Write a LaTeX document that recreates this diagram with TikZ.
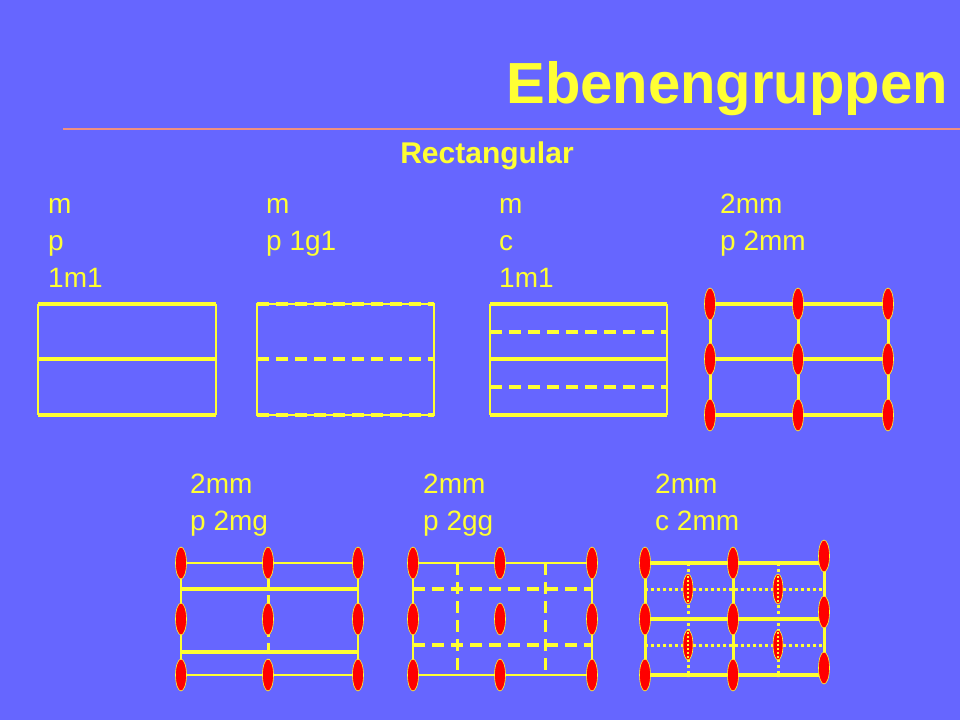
\documentclass[tikz,border=0pt]{standalone}
\usepackage{fontspec}
\setmainfont{Liberation Sans}
\definecolor{bgblue}{HTML}{6666FF}
\definecolor{gelb}{HTML}{FFFF33}
\definecolor{lachs}{HTML}{F09080}
\tikzset{
  thickline/.style={gelb, line width=4pt},
  thinline/.style={gelb, line width=1.5pt},
  midline/.style={gelb, line width=3pt},
  dashline/.style={gelb, line width=4pt, dash pattern=on 12pt off 7pt},
  dotline/.style={gelb, line width=3pt, dash pattern=on 3pt off 3pt},
  axis/.style={draw=gelb, fill=red, line width=0.6pt, ellipse, minimum width=11pt, minimum height=32pt, inner sep=0pt},
  lbl/.style={anchor=base west, align=left, gelb, font=\fontsize{28}{37}\selectfont, inner sep=0pt}
}
\usetikzlibrary{shapes.geometric}
\begin{document}
\begin{tikzpicture}[x=1pt,y=-1pt]
  % background
  \fill[bgblue] (0,0) rectangle (960,720);
  \useasboundingbox (0,0) rectangle (960,720);

  % title
  \node[gelb, anchor=base east, font=\fontsize{58}{58}\selectfont\bfseries, inner sep=0pt] (title) at (948,103) {Ebenengruppen};
  \draw[lachs, line width=2.5pt] (63,129) -- (960,129);
  \node[gelb, anchor=base, font=\fontsize{30}{30}\selectfont\bfseries, inner sep=0pt] (rect) at (487,163) {Rectangular};

  % labels
  \node[lbl] (l1) at (48,287) {m\\p\\1m1};
  \node[lbl] (l2) at (266,250) {m\\p 1g1};
  \node[lbl] (l3) at (499,287) {m\\c\\1m1};
  \node[lbl] (l4) at (720,250) {2mm\\p 2mm};
  \node[lbl] (l5) at (190,530) {2mm\\p 2mg};
  \node[lbl] (l6) at (423,530) {2mm\\p 2gg};
  \node[lbl] (l7) at (655,530) {2mm\\c 2mm};

  % p1m1
  \draw[thinline] (38,304) -- (38,415) (216,304) -- (216,415);
  \foreach \y in {304,359,415} \draw[thickline] (38,\y) -- (216,\y);

  % p1g1
  \draw[thinline] (257,304) rectangle (434,415);
  \foreach \y in {304,359,415} \draw[dashline] (257,\y) -- (434,\y);

  % c1m1
  \draw[thinline] (490,304) -- (490,415) (667,304) -- (667,415);
  \foreach \y in {304,359,415} \draw[thickline] (490,\y) -- (667,\y);
  \foreach \y in {332,387} \draw[dashline] (490,\y) -- (667,\y);

  % p2mm
  \foreach \y in {304,359,415} \draw[thickline] (710,\y) -- (888,\y);
  \foreach \x in {710,798,888} \draw[midline] (\x,304) -- (\x,415);
  \foreach \x/\i in {710/1,798/2,888/3}
    \foreach \y/\j in {304/1,359/2,415/3}
      \node[axis] (a\i\j) at (\x,\y) {};

  % p2mg
  \foreach \y in {563,675} \draw[thinline] (181,\y) -- (358,\y);
  \foreach \y in {589,652} \draw[thickline] (181,\y) -- (358,\y);
  \foreach \x in {181,358} \draw[thinline] (\x,563) -- (\x,675);
  \draw[midline, dash pattern=on 10pt off 6pt] (268,563) -- (268,675);
  \foreach \x/\i in {181/1,268/2,358/3}
    \foreach \y/\j in {563/1,619/2,675/3}
      \node[axis] (b\i\j) at (\x,\y) {};

  % p2gg
  \draw[thinline] (413,563) rectangle (592,675);
  \foreach \y in {589,645} \draw[dashline] (413,\y) -- (592,\y);
  \foreach \x in {457,545} \draw[midline, dash pattern=on 12pt off 7pt] (\x,563) -- (\x,677);
  \foreach \x/\i in {413/1,500/2,592/3}
    \foreach \y/\j in {563/1,619/2,675/3}
      \node[axis] (c\i\j) at (\x,\y) {};

  % c2mm
  \foreach \y in {563,619,675} \draw[thickline] (645,\y) -- (824,\y);
  \foreach \x in {645,733,824} \draw[midline] (\x,563) -- (\x,675);
  \foreach \y in {589,645} \draw[dotline] (645,\y) -- (824,\y);
  \foreach \x in {688,778} \draw[dotline] (\x,563) -- (\x,677);
  \foreach \x/\i in {645/1,733/2}
    \foreach \y/\j in {563/1,619/2,675/3}
      \node[axis] (d\i\j) at (\x,\y) {};
  \foreach \y/\j in {556/1,612/2,668/3}
    \node[axis] (d3\j) at (824,\y) {};
  \foreach \x/\i in {688/1,778/2}
    \foreach \y/\j in {589/1,645/2} {
      \node[axis, minimum width=10pt, minimum height=30pt] (e\i\j) at (\x,\y) {};
      \draw[gelb, line width=2pt, dash pattern=on 2pt off 2pt] (\x,\y-13) -- (\x,\y+13);
    }
\end{tikzpicture}
\end{document}
